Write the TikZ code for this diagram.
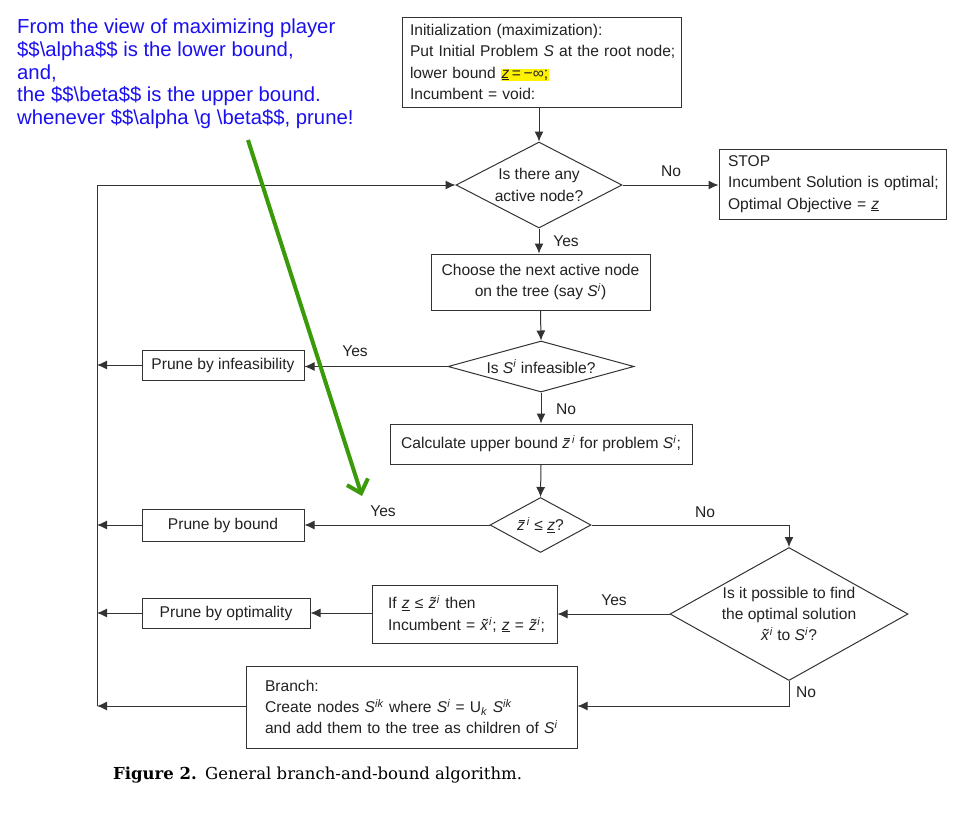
\documentclass[tikz,border=0pt]{standalone}
\usepackage{fontspec}
\setsansfont{Liberation Sans}
\newfontfamily\capfont{DejaVu Serif}
\usetikzlibrary{shapes.geometric,arrows.meta,calc}
\definecolor{ink}{HTML}{222222}
\definecolor{lnk}{HTML}{333333}
\definecolor{noteblue}{HTML}{1A10F0}
\definecolor{notegreen}{HTML}{3A9A0A}
\definecolor{hl}{HTML}{FFF200}
\newcommand{\Ital}[1]{\textit{#1}}
\newcommand{\Sup}[1]{\textsuperscript{\textit{#1}}}
\newcommand{\zl}{\underline{\textit{z}}}
\newcommand{\Tl}[1]{{\ooalign{\textit{#1}\cr\hidewidth\kern0.12em\char"02DC\hidewidth\cr}}\kern0.5pt}
\newcommand{\Br}[1]{{\ooalign{\textit{#1}\cr\hidewidth\kern0.12em\rule[1.18ex]{0.36em}{0.07em}\hidewidth\cr}}\kern2pt}
\newcommand{\Lset}[1]{\leftskip=#1pt\rightskip=0pt plus 1fil\parfillskip=0pt plus 1fil\hyphenpenalty=10000\exhyphenpenalty=10000\relax}
\begin{document}
\begin{tikzpicture}[x=1pt,y=-1pt,
  every node/.style={font=\sffamily\fontsize{15.6}{21.3}\selectfont, text=ink},
  box/.style={draw=lnk, line width=1pt, rectangle, inner sep=0pt},
  dia/.style={draw=lnk, line width=1pt, diamond, inner sep=0pt},
  dtext/.style={align=center, inner sep=0pt},
  arr/.style={draw=lnk, line width=1pt, -{Latex[length=10pt,width=9pt]}},
  lab/.style={inner sep=0pt}
]
\useasboundingbox[fill=white] (0,0) rectangle (974,812);

% note
\node[anchor=north west, align=left, inner sep=0pt, text=noteblue,
      font=\sffamily\fontsize{20.3}{22.6}\selectfont] (note) at (17,19)
 {From the view of maximizing player\\
  \$\$\textbackslash alpha\$\$ is the lower bound,\\
  and,\\
  the \$\$\textbackslash beta\$\$ is the upper bound.\\
  whenever \$\$\textbackslash alpha \textbackslash g \textbackslash beta\$\$, prune!};

% boxes
\node[box, text width=279, minimum height=90] (init) at (541.5,62)
 {\Lset{8}Initialization (maximization):\\
  Put Initial Problem \Ital{S} at the root node;\\
  lower bound {\setlength{\fboxsep}{0.5pt}\colorbox{hl}{\zl\,=\,−∞;}}\\
  Incumbent = void:\par};

\node[dia, minimum width=166, minimum height=86,
      label={[dtext]center:Is there any\\active node?}] (d1) at (539,185) {};

\node[box, text width=227, minimum height=70] (stop) at (832.5,184)
 {\Lset{9}STOP\\
  Incumbent Solution is optimal;\\
  Optimal Objective = \zl\par};

\node[box, minimum width=219, minimum height=56, align=center] (choose) at (540.5,282)
 {Choose the next active node\\on the tree (say \Ital{S}\Sup{i})};

\node[dia, minimum width=186, minimum height=51,
      label={[dtext]center:Is \Ital{S}\Sup{i} infeasible?}] (d2) at (541,366.5) {};

\node[box, minimum width=162, minimum height=30] (pinf) at (223,365)
 {Prune by infeasibility};

\node[box, minimum width=302, minimum height=40] (calc) at (541,444)
 {Calculate upper bound \Br{z}\Sup{i} for problem \Ital{S}\Sup{i};};

\node[dia, minimum width=101, minimum height=55,
      label={[dtext]center:\Br{z}\Sup{i} ≤ \zl?}] (d3) at (540.5,525) {};

\node[box, minimum width=162, minimum height=32] (pbound) at (223,525)
 {Prune by bound};

\node[dia, minimum width=238, minimum height=133,
      label={[dtext]center:Is it possible to find\\the optimal solution\\\Tl{x}\Sup{i} to \Ital{S}\Sup{i}?}] (d4) at (789,614) {};

\node[box, text width=185, minimum height=58] (ifb) at (464.5,614)
 {\Lset{16}If \zl\ ≤ \Tl{z}\Sup{i} then\\
  Incumbent = \Tl{x}\Sup{i}; \zl\ = \Tl{z}\Sup{i};\par};

\node[box, minimum width=168, minimum height=30] (popt) at (226,613)
 {Prune by optimality};

\node[box, text width=331, minimum height=82] (branch) at (411.5,707)
 {\Lset{19}Branch:\\
  Create nodes \Ital{S}\Sup{ik} where \Ital{S}\Sup{i} = U\textsubscript{\textit{k}} \Ital{S}\Sup{ik}\\
  and add them to the tree as children of \Ital{S}\Sup{i}\par};

% caption
\node[anchor=west, inner sep=0pt, text=black, font=\capfont\fontsize{16.5}{19}\selectfont] (cap) at (113,775)
 {\textbf{Figure 2.}\enspace General branch-and-bound algorithm.};

% left collector line
\coordinate (Ltop) at (97,185);
\coordinate (Lbot) at (97,706);
\coordinate (corner3) at (789,526);
\coordinate (corner4) at (789,706);

% connectors
\draw[arr] (init.south -| d1.north) -- (d1.north);
\draw[arr] (d1.east) -- (d1.east -| stop.west);
\node[lab] (no1) at (671,171) {No};
\draw[arr] (d1.south) -- (d1.south |- choose.north);
\node[lab] (yes1) at (566,241) {Yes};
\draw[arr] (choose.south) -- (d2.north);
\draw[arr] (d2.west) -- (d2.west -| pinf.east);
\node[lab] (yes2) at (355,351) {Yes};
\draw[arr] (pinf.west) -- (pinf.west -| Ltop);
\draw[arr] (d2.south) -- (calc.north);
\node[lab] (no2) at (566,409) {No};
\draw[arr] (calc.south) -- (d3.north);
\draw[arr] (d3.west) -- (d3.west -| pbound.east);
\node[lab] (yes3) at (383,511) {Yes};
\draw[arr] (pbound.west) -- (pbound.west -| Ltop);
\draw[arr] (d3.east) -- (d3.east -| corner3) -- (d4.north);
\node[lab] (no3) at (705,512) {No};
\draw[arr] (d4.west) -- (d4.west -| ifb.east);
\node[lab] (yes4) at (614,600) {Yes};
\draw[arr] (ifb.west |- popt.east) -- (popt.east);
\draw[arr] (popt.west) -- (popt.west -| Ltop);
\draw[arr] (d4.south) -- (corner4) -- (branch.east |- corner4);
\node[lab] (no4) at (806,692) {No};
\draw[arr] (branch.west |- Lbot) -- (Lbot);
\draw[arr] (Lbot) -- (Ltop) -- (d1.west);

% green note arrow
\coordinate (gs) at (248,140);
\coordinate (ge) at (362,496);
\draw[draw=notegreen, line width=4pt, -{Straight Barb[length=12pt,width=22pt,line width=4pt]}] (gs) -- (ge);
\end{tikzpicture}
\end{document}
